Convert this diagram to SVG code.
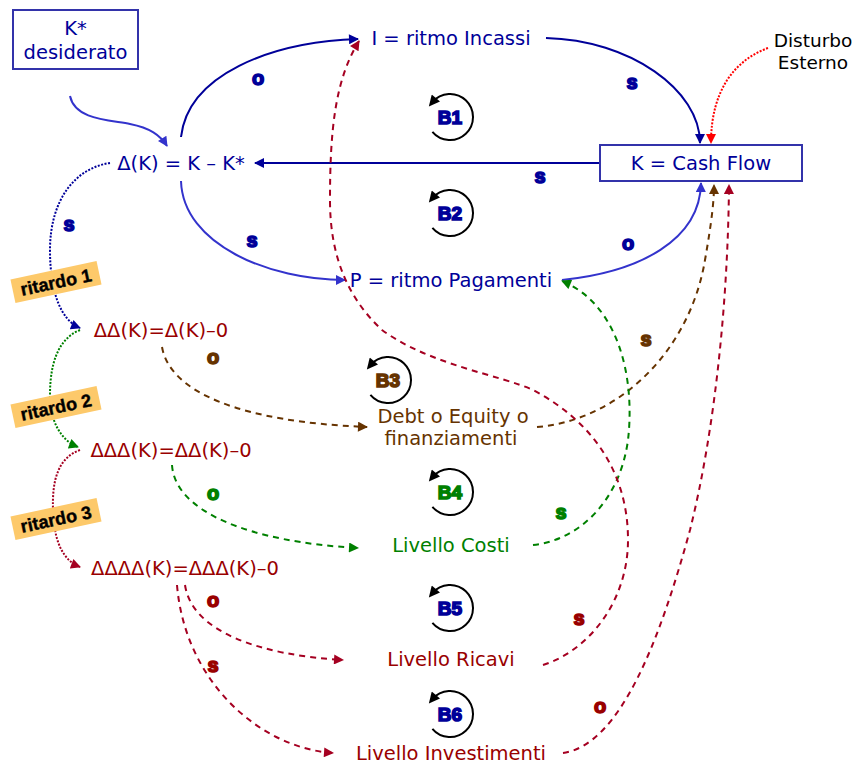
<svg xmlns="http://www.w3.org/2000/svg" width="857" height="767" viewBox="0 0 857 767">
  <style>
    .lbl { font-family: "DejaVu Sans", Verdana, sans-serif; font-size: 19.5px; }
    .navy { fill: #000099; }
    .dred { fill: #990000; }
    .brown { fill: #663300; }
    .green { fill: #008000; }
    .sign { font-family: "Liberation Sans", Arial, sans-serif; font-size: 20px; font-weight: bold; stroke-width: 1.6px; }
    .loopname { font-family: "Liberation Sans", Arial, sans-serif; font-size: 19px; font-weight: bold; stroke-width: 1.6px; }
    .box { fill: #ffffff; stroke: #3333aa; stroke-width: 2; }
    .c { fill: none; stroke-width: 2; }
    .dash { stroke-dasharray: 6 5; }
    .dot { stroke-dasharray: 2 1.5; }
    .loop { fill: none; stroke: #000000; stroke-width: 2; }
    .delay rect { fill: #fdc96a; }
    .delay text { font-family: "Liberation Sans", Arial, sans-serif; font-size: 18px; font-weight: bold; fill: #000000; stroke: #000000; stroke-width: 0.4px; }
  </style>
  <defs>
    <marker id="ah-navy" viewBox="0 0 10 10" refX="9" refY="5" markerWidth="11" markerHeight="10" markerUnits="userSpaceOnUse" orient="auto"><path d="M0,0 L10,5 L0,10 z" fill="#000099"/></marker>
    <marker id="ah-blue" viewBox="0 0 10 10" refX="9" refY="5" markerWidth="11" markerHeight="10" markerUnits="userSpaceOnUse" orient="auto"><path d="M0,0 L10,5 L0,10 z" fill="#3333cc"/></marker>
    <marker id="ah-red" viewBox="0 0 10 10" refX="9" refY="5" markerWidth="11" markerHeight="10" markerUnits="userSpaceOnUse" orient="auto"><path d="M0,0 L10,5 L0,10 z" fill="#ff0000"/></marker>
    <marker id="ah-crimson" viewBox="0 0 10 10" refX="9" refY="5" markerWidth="11" markerHeight="10" markerUnits="userSpaceOnUse" orient="auto"><path d="M0,0 L10,5 L0,10 z" fill="#a50021"/></marker>
    <marker id="ah-brown" viewBox="0 0 10 10" refX="9" refY="5" markerWidth="11" markerHeight="10" markerUnits="userSpaceOnUse" orient="auto"><path d="M0,0 L10,5 L0,10 z" fill="#663300"/></marker>
    <marker id="ah-green" viewBox="0 0 10 10" refX="9" refY="5" markerWidth="11" markerHeight="10" markerUnits="userSpaceOnUse" orient="auto"><path d="M0,0 L10,5 L0,10 z" fill="#008000"/></marker>
    <marker id="ah-black" viewBox="0 0 10 10" refX="5" refY="5" markerWidth="12" markerHeight="11" markerUnits="userSpaceOnUse" orient="auto"><path d="M0,0 L10,5 L0,10 z" fill="#000000"/></marker>
  </defs>

  <!-- connectors -->
  <g id="connectors">
    <!-- main balancing structure -->
    <path class="c" stroke="#000099" d="M181,137 C 188,75 270,42 358,39" marker-end="url(#ah-navy)"/>
    <path class="c" stroke="#000099" d="M546,38 C 630,40 700,90 700,143" marker-end="url(#ah-navy)"/>
    <path class="c" stroke="#000099" d="M600,163 L 255,163" marker-end="url(#ah-navy)"/>
    <path class="c" stroke="#3333cc" d="M181,181 C 183,245 270,280 345,280" marker-end="url(#ah-blue)"/>
    <path class="c" stroke="#3333cc" d="M562,280 C 640,272 700,240 701,183" marker-end="url(#ah-blue)"/>
    <path class="c" stroke="#3333cc" d="M70,96 C 75,120 110,120 130,124 C 150,128 160,135 167,146" marker-end="url(#ah-blue)"/>
    <path class="c dot" stroke="#ff0000" d="M768,48 C 735,60 711,90 711,143" marker-end="url(#ah-red)"/>

    <!-- delay chain -->
    <path class="c dot" stroke="#000099" d="M110,163 C 75,168 50,200 50,250 C 50,290 60,320 80,328" marker-end="url(#ah-navy)"/>
    <path class="c dot" stroke="#008000" d="M80,330 C 55,340 50,370 50,395 C 50,420 60,440 78,447" marker-end="url(#ah-green)"/>
    <path class="c dot" stroke="#a50021" d="M80,450 C 58,458 52,480 53,510 C 54,540 62,560 80,567" marker-end="url(#ah-crimson)"/>

    <!-- adjustment links -->
    <path class="c dash" stroke="#663300" d="M162,347 C 170,392 240,422 367,427" marker-end="url(#ah-brown)"/>
    <path class="c dash" stroke="#663300" d="M537,427 C 620,420 690,350 705,260 C 712,220 714,200 714,185" marker-end="url(#ah-brown)"/>
    <path class="c dash" stroke="#008000" d="M172,465 C 175,512 250,542 358,548" marker-end="url(#ah-green)"/>
    <path class="c dash" stroke="#008000" d="M533,545 C 580,540 620,500 628,440 C 635,380 620,305 562,281" marker-end="url(#ah-green)"/>
    <path class="c dash" stroke="#a50021" d="M185,585 C 192,632 260,655 343,660" marker-end="url(#ah-crimson)"/>
    <path class="c dash" stroke="#a50021" d="M177,585 C 185,682 260,748 333,753" marker-end="url(#ah-crimson)"/>
    <path class="c dash" stroke="#a50021" d="M543,665 C 590,650 628,600 628,540 C 628,470 590,420 533,390 C 500,375 430,365 382,330 C 350,300 330,260 330,200 C 330,130 335,80 359,41" marker-end="url(#ah-crimson)"/>
    <path class="c dash" stroke="#a50021" d="M563,753 C 620,745 660,640 690,530 C 715,430 728,300 729,185" marker-end="url(#ah-crimson)"/>
  </g>

  <!-- polarity signs -->
  <g id="signs">
    <text class="sign navy" stroke="#000099" x="258" y="85" text-anchor="middle">o</text>
    <text class="sign navy" stroke="#000099" x="632" y="89" text-anchor="middle">s</text>
    <text class="sign navy" stroke="#000099" x="540" y="183" text-anchor="middle">s</text>
    <text class="sign navy" stroke="#000099" x="69" y="231" text-anchor="middle">s</text>
    <text class="sign navy" stroke="#000099" x="252" y="247" text-anchor="middle">s</text>
    <text class="sign navy" stroke="#000099" x="628" y="250" text-anchor="middle">o</text>
    <text class="sign brown" stroke="#663300" x="213" y="364" text-anchor="middle">o</text>
    <text class="sign brown" stroke="#663300" x="646" y="346" text-anchor="middle">s</text>
    <text class="sign green" stroke="#008000" x="213" y="500" text-anchor="middle">o</text>
    <text class="sign green" stroke="#008000" x="561" y="519" text-anchor="middle">s</text>
    <text class="sign dred" stroke="#990000" x="213" y="607" text-anchor="middle">o</text>
    <text class="sign dred" stroke="#990000" x="579" y="625" text-anchor="middle">s</text>
    <text class="sign dred" stroke="#990000" x="213" y="672" text-anchor="middle">s</text>
    <text class="sign dred" stroke="#990000" x="600" y="713" text-anchor="middle">o</text>
  </g>

  <!-- balancing loop markers -->
  <g id="loop-B1">
    <path class="loop" d="M432.4,131.8 A 23,23 0 1 0 432.4,102.2" marker-end="url(#ah-black)"/>
    <text class="loopname navy" stroke="#000099" x="450" y="124" text-anchor="middle">B1</text>
  </g>
  <g id="loop-B2">
    <path class="loop" d="M432.4,227.8 A 23,23 0 1 0 432.4,198.2" marker-end="url(#ah-black)"/>
    <text class="loopname navy" stroke="#000099" x="450" y="220" text-anchor="middle">B2</text>
  </g>
  <g id="loop-B3">
    <path class="loop" d="M370.4,394.8 A 23,23 0 1 0 370.4,365.2" marker-end="url(#ah-black)"/>
    <text class="loopname brown" stroke="#663300" x="388" y="387" text-anchor="middle">B3</text>
  </g>
  <g id="loop-B4">
    <path class="loop" d="M432.4,506.8 A 23,23 0 1 0 432.4,477.2" marker-end="url(#ah-black)"/>
    <text class="loopname green" stroke="#008000" x="450" y="499" text-anchor="middle">B4</text>
  </g>
  <g id="loop-B5">
    <path class="loop" d="M432.4,622.8 A 23,23 0 1 0 432.4,593.2" marker-end="url(#ah-black)"/>
    <text class="loopname navy" stroke="#000099" x="450" y="615" text-anchor="middle">B5</text>
  </g>
  <g id="loop-B6">
    <path class="loop" d="M432.4,728.8 A 23,23 0 1 0 432.4,699.2" marker-end="url(#ah-black)"/>
    <text class="loopname navy" stroke="#000099" x="450" y="721" text-anchor="middle">B6</text>
  </g>

  <!-- nodes -->
  <g id="node-target">
    <rect class="box" x="13" y="10" width="125" height="59"/>
    <text class="lbl navy" x="75.5" y="35" text-anchor="middle">K*</text>
    <text class="lbl navy" x="75.5" y="59" text-anchor="middle">desiderato</text>
  </g>
  <g id="node-gap">
    <text class="lbl navy" x="181" y="170" text-anchor="middle">Δ(K) = K – K*</text>
  </g>
  <g id="node-incassi">
    <text class="lbl navy" x="451" y="45" text-anchor="middle">I = ritmo Incassi</text>
  </g>
  <g id="node-pagamenti">
    <text class="lbl navy" x="451" y="287" text-anchor="middle">P = ritmo Pagamenti</text>
  </g>
  <g id="node-cashflow">
    <rect class="box" x="600" y="145" width="202" height="36"/>
    <text class="lbl navy" x="701" y="170" text-anchor="middle">K = Cash Flow</text>
  </g>
  <g id="node-disturbo">
    <text class="lbl" fill="#000000" x="813" y="47" text-anchor="middle" style="font-size:18.5px">Disturbo</text>
    <text class="lbl" fill="#000000" x="813" y="69" text-anchor="middle" style="font-size:18.5px">Esterno</text>
  </g>
  <g id="node-delta2">
    <text class="lbl dred" x="161" y="337" text-anchor="middle">ΔΔ(K)=Δ(K)–0</text>
  </g>
  <g id="node-delta3">
    <text class="lbl dred" x="171" y="457" text-anchor="middle">ΔΔΔ(K)=ΔΔ(K)–0</text>
  </g>
  <g id="node-delta4">
    <text class="lbl dred" x="185" y="575" text-anchor="middle">ΔΔΔΔ(K)=ΔΔΔ(K)–0</text>
  </g>
  <g id="node-debt">
    <text class="lbl brown" x="453" y="423" text-anchor="middle">Debt o Equity o</text>
    <text class="lbl brown" x="451" y="445" text-anchor="middle">finanziamenti</text>
  </g>
  <g id="node-costi">
    <text class="lbl green" x="451" y="552" text-anchor="middle">Livello Costi</text>
  </g>
  <g id="node-ricavi">
    <text class="lbl dred" x="451" y="666" text-anchor="middle">Livello Ricavi</text>
  </g>
  <g id="node-investimenti">
    <text class="lbl dred" x="451" y="760" text-anchor="middle">Livello Investimenti</text>
  </g>

  <!-- delay tags -->
  <g id="delay-1" class="delay" transform="translate(56,282) rotate(-12)">
    <rect x="-44" y="-12" width="88" height="24"/>
    <text x="0" y="6.5" text-anchor="middle">ritardo 1</text>
  </g>
  <g id="delay-2" class="delay" transform="translate(56,407) rotate(-12)">
    <rect x="-44" y="-12" width="88" height="24"/>
    <text x="0" y="6.5" text-anchor="middle">ritardo 2</text>
  </g>
  <g id="delay-3" class="delay" transform="translate(56,519) rotate(-12)">
    <rect x="-44" y="-12" width="88" height="24"/>
    <text x="0" y="6.5" text-anchor="middle">ritardo 3</text>
  </g>
</svg>
